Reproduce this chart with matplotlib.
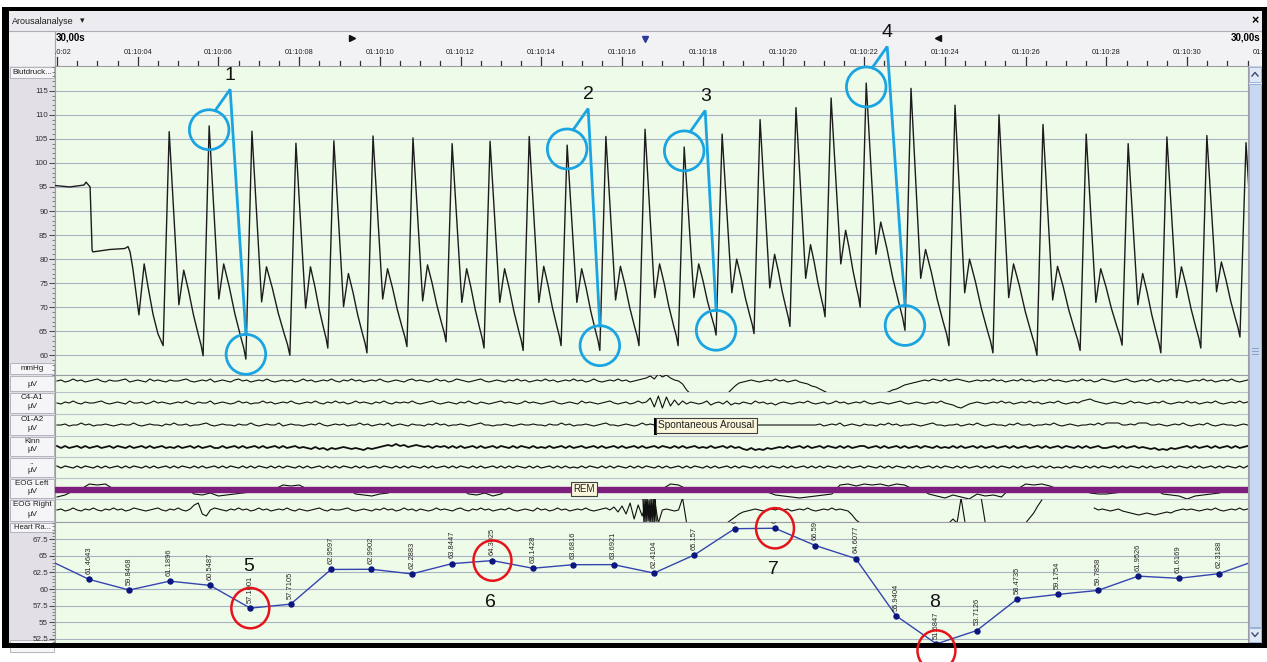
import numpy as np
import matplotlib
matplotlib.use("Agg")
import matplotlib.pyplot as plt
from matplotlib.patches import Rectangle, Ellipse
from matplotlib.ticker import FixedLocator, FuncFormatter

plt.rcParams['font.family'] = ['Liberation Sans', 'DejaVu Sans']

# ======================= DATA =======================
# time: seconds after 01:10:02 (30 s window)
ruler_major_s = list(range(0, 32, 2))
ruler_labels = ["01:10:%02d" % (2 + s) for s in ruler_major_s]
ruler_marks_t = [7.31, 14.57, 21.83]          # start marker, cursor, end marker

# Blood pressure (mmHg) - start of record before the first beat
bp_pre_t = [-0.05, 0.32, 0.67, 0.72, 0.77, 0.82, 0.87, 0.89, 1.31, 1.68, 1.76, 1.81,
            1.88, 2.03, 2.16, 2.25, 2.38, 2.50, 2.63]
bp_pre_v = [95.3, 95.0, 95.4, 96.0, 95.5, 95.0, 81.8, 81.5, 82.0, 82.2, 82.6, 81.5,
            78.0, 68.4, 79.0, 74.5, 68.5, 64.5, 62.0]
# per beat: time of systolic peak, systolic peak, preceding diastolic trough,
# dicrotic notch, secondary peak
bp_peak_t = [2.78, 3.77, 4.83, 5.92, 6.86, 7.83, 8.82, 9.79, 10.73, 11.70, 12.64, 13.60,
             14.57, 15.54, 16.48, 17.42, 18.31, 19.18, 20.05, 21.16, 22.25, 23.34, 24.43,
             25.50, 26.54, 27.50, 28.49, 29.46]
bp_peak = [106.5, 107.7, 106.6, 104.1, 104.6, 105.6, 105.2, 104.0, 104.5, 105.5, 103.7, 105.5,
           107.0, 103.3, 106.0, 109.0, 111.5, 113.5, 116.6, 115.5, 112.0, 110.0, 108.0,
           106.0, 104.0, 105.4, 105.7, 104.2]
bp_trough = [62.0, 59.9, 59.2, 60.0, 61.5, 60.5, 61.8, 62.8, 61.5, 61.0, 62.0, 61.0,
             62.0, 62.0, 64.2, 64.5, 66.0, 68.0, 70.0, 65.2, 62.0, 60.5, 60.0,
             61.0, 62.1, 60.5, 61.5, 63.8]
bp_notch = [70.5, 71.7, 71.1, 69.8, 70.1, 71.7, 71.3, 71.0, 71.0, 71.0, 71.0, 71.5,
            72.0, 72.0, 73.0, 74.0, 76.0, 79.0, 81.0, 76.0, 73.0, 72.0, 71.5,
            71.0, 70.5, 72.0, 73.2, 72.0]
bp_sec = [77.7, 79.0, 78.4, 78.4, 77.0, 78.0, 78.8, 78.0, 78.0, 78.5, 78.0, 78.5,
          79.0, 79.0, 80.0, 81.0, 83.0, 86.0, 87.7, 82.0, 80.0, 79.0, 78.5,
          78.0, 77.0, 78.4, 79.4, 79.0]

# Heart rate (bpm), one value per second
hr_t = [-0.21, 0.79, 1.79, 2.79, 3.79, 4.79, 5.79, 6.79, 7.79, 8.79, 9.79, 10.79, 11.79,
        12.79, 13.79, 14.79, 15.79, 16.79, 17.79, 18.79, 19.79, 20.79, 21.79, 22.79,
        23.79, 24.79, 25.79, 26.79, 27.79, 28.79, 29.79]
hr_v = [64.4, 61.4643, 59.8468, 61.1896, 60.5487, 57.1001, 57.7105, 62.9597, 62.9902,
        62.2883, 63.8447, 64.3025, 63.1428, 63.6816, 63.6921, 62.4104, 65.157, 69.1362,
        69.2017, 66.59, 64.6077, 55.9404, 51.6847, 53.7126, 58.4735, 59.1754, 59.7858,
        61.9526, 61.6169, 62.3188, 64.5]

# EEG / EOG / EMG channels: one letter per sample, 'm' = baseline, 1 px per letter step,
# '.' = trace outside its row
eeg_names = ["", "C4-A1", "O1-A2", "Kinn", "..", "EOG Left", "EOG Right"]
eeg_dt = [0.1, 0.1, 0.1, 0.1, 0.1, 0.2, 0.1]
eeg_ch1 = ("mlnmkmlnmlkmnlmmlknm" "lmnkmlmnlmmlkmnmlmkn" "mlmnlkmlnmlmkmnmlmln"
           "mkmlnmlmkmnlmkmlnmlm" "kmnmlmnlkmlmnmkmlnmk" "lmnmlkmnmlmnlmkmlnml"
           "mkmlnmlmkmlnmkmnmlmk" "mlnmlkjhkfigjlmpvz.." "......zvronmlmnmlmkm"
           "lnmlnoprsuwyz......." "....zyxvusqponmlmklm" "kmlklmnmlmlmkmlnmlmk"
           "mlnmlmkmlmnmlmkmlnmk" "lmnmlkmnmlmkmnlmkmlm" "nmlmkmlnmlmkmnml")
eeg_ch2 = ("mnlmkmnlmmlkmnmlmnkm" "mlnmkmlmnmlmkmnlmmkn" "mlmnmkmlnmmkmlnmlmkm"
           "nmlmkmnlmkmlnmkmlmnl" "mkmnlmlmkmnmlkmnmlmn" "lmkmnlmnmlkmlmnmkmlm"
           "nmlkmnmlmnkmlmnmlkmn" "mlnmkmlhqfrgpjoknlmn" "mkomlnkomnlmnkmlnmom"
           "lmnmlmkmnmlnmkmlnmlm" "kmnmlmnmlkmnmlmnmlmk" "mnoqrpnmlmnmlmkmlnml"
           "mkmlnmlmkmnmlmkjiklm" "nmlmnmkmlmnmlmkmnmlm" "kmlnmlmkmnmlmkml")
eeg_ch3 = ("mmlnmmkmlnmmlmnmlmmk" "mnmlmmnlmkmmlnmmlkmn" "mlmmnlmmkmnmlmmknmlm"
           "mnmlmkmnmlmlnmmkmlnm" "lmknmlmnlmmnlmkmlnmm" "lmnmlkmmnmmlmnmlmmlm"
           "mnlmmkmlnmmlmnmlkmmn" "mlmnmkmlmmmmmmmmmmmm" "mmmmmmmmmmmmmmmmmmmm"
           "mmmmmmmmmlnmlmknmlmn" "lmmnlmkmlnmmlmnmlkmm" "nmmlnmlmkmnmlmmnlmkm"
           "mlnmmlmkmnmlmnmmlmkm" "kkkkmmlmkkkmmlmnmlmk" "mnmlmkmnmlmmnmlm")
eeg_ch4 = ("lnlnmlnlnmlnmlnlmnln" "mlnlnmlnmnlnmlnlnmln" "nlnmlnlnmlnlnmlnlnml"
           "nmnomonpnonmnonopnon" "mlkljlkmlklmlnlmlnln" "lnmlnlnmlnlmnlnlmnln"
           "mnlnmlnlnmlnmlnlnmln" "lnmlnlnmlnlmnlnlnmln" "mnlnmlnlnmopnpopnonm"
           "nlnmlnlnmlnlmnlnlnml" "lnmlnlnmlnlnmlnlmnln" "mnlnlnmlnlnmlnmlnlnm"
           "lnmlnlnmlnlmnlnlnmln" "nmlnlnmlnmnonpopnonm" "lnlnmlnlnmlnlnml")
eeg_ch5 = ("lnlmnlnlmnlnlnmlnlnl" "mnlnlnmlnlnlmnlnlnml" "nlnlmnlnlnlmnlnlnlmn"
           "lnlnmlnlnlnlmnlnlnml" "nlmnlnlnlmnlnlnmlnln" "lmnlnlnmlnlnlnlmnlnl"
           "nmlnlnlnmnlnlmnlnlnl" "mnlnlnlmnlnlnmlnlnlm" "nlnlnmlnlnlmnlnlnlmn"
           "lnlnmlnlnlnlmnlnlnml" "nlmnlnlnlmnlnlnmlnln" "lmnlnlnmlnlnlnlmnlnl"
           "nmlnlnlnmnlnlmnlnlnl" "mnlnlnlmnlnlnmlnlnlm" "nlnlnmlnlnlmnlnl")
eeg_ch6 = ("usomhihmmm" "mmmmmmmrsq" "tsrqpmmmij" "immmmmmrst" "rqmmmmmmmm" "mrsqtrmmmm"
           "mmmmqrqmmm" "mmmmmmhimm" "mmmmmmmmps" "tuvutsrihj" "hihjhimmrt" "vsuwrtsumm"
           "hihjmmmmqr" "rqpmmmmrst" "wtsrqmmmm")
eeg_ch7 = ("mlnmkmnlmkmnlmkmlnmk" "lmnmlkmnlmkmnlhfqsmk" "lmnlmkmlnmkmlnmlmkmn"
           "lmnmlkmnlmmlkmnmlmnl" "mkmlnmkmlnlmnmkmlmnl" "kmnlmkmlnmlmkmnmlmnk"
           "mlnmkmlnmlmkmnmlkmjo" "iqfvhsdwbzmlmnmaz..." "......zwtqonmlmnmlmk"
           "mlnmlmkmnmlmkmlmnrwz" "...................." ".zvzaz...az........."
           "zupic............kml" "mnmlnopqrqpqrqpopnml" "mlmnmlmkmnmlmkml")
eog_r_burst_t0 = 14.52
eog_r_burst = "azbyaxczaybzax"       # 0.025 s per letter
arousal_start_t = 14.82
arousal_label = "Spontaneous Arousal"
rem_label_t = 13.05

# annotations: (number, beat index of peak); trough = the one before next beat
bp_anno = [("1", 1), ("2", 10), ("3", 13), ("4", 18)]
hr_anno = [("5", 5, 1), ("6", 11, -1), ("7", 18, -1), ("8", 22, 1)]

# ======================= FIGURE =======================
W, H = 1267, 662
fig = plt.figure(figsize=(W / 100, H / 100), dpi=100)
fig.patch.set_facecolor('white')
PX0, PXS = 57.0, 40.36


def tx(px):
    return (px - PX0) / PXS


T_LEFT, T_RIGHT = tx(55), tx(1248)


def pax(x0, y0, x1, y1, z):
    a = fig.add_axes([x0 / W, 1 - y1 / H, (x1 - x0) / W, (y1 - y0) / H])
    a.set_zorder(z)
    return a


def box(a, x0, y0, x1, y1, fc, ec='none', lw=0.0, z=1):
    p = Rectangle((x0, y0), x1 - x0, y1 - y0, facecolor=fc, edgecolor=ec,
                  linewidth=lw, zorder=z)
    a.add_patch(p)
    return p


# ---------- chrome ----------
bg = pax(0, 0, W, H, 0)
bg.set_xlim(0, W)
bg.set_ylim(H, 0)
bg.axis('off')
box(bg, 9, 11, 1262, 31, '#ecebef')
bg.plot([9, 1262], [31, 31], color='#aeacb6', lw=0.8, zorder=2)
box(bg, 9, 31, 1262, 66, '#f2f1f4')
box(bg, 9, 66, 55, 645, '#e2e0e6')
bg.plot([55, 55], [31, 645], color='#a6a4ae', lw=0.8, zorder=2)
bg.text(12, 21, 'Arousalanalyse', fontsize=6.5, va='center', color='#1e1e1e')
bg.text(80, 21, '▾', fontsize=6.5, va='center', family='DejaVu Sans', color='#1e1e1e')
bg.text(1255, 21, '×', fontsize=9, va='center', ha='center', weight='bold')
bg.text(56, 38, '30,00s', fontsize=7, weight='bold', va='center', ha='left')
bg.text(1260, 38, '30,00s', fontsize=7, weight='bold', va='center', ha='right')

LBL_FC, LBL_EC = '#f5f4f7', '#b4b2bb'
UIFS = 5.8


def label_box(y0, y1, name, unit, name_dy=5.5, unit_dy=6.0, fs=UIFS):
    p = box(bg, 10, y0, 54, y1, LBL_FC, LBL_EC, 0.7, 3)
    if name:
        t = bg.text(32, y0 + name_dy, name, fontsize=fs, ha='center', va='center',
                    color='#202020', zorder=4)
        t.set_clip_path(p)
    if unit:
        bg.text(32, y1 - unit_dy, unit, fontsize=fs, ha='center', va='center',
                color='#202020', zorder=4)


label_box(67, 78, 'Blutdruck...', '', name_dy=5.5)
label_box(363, 374, '', 'mmHg', unit_dy=5.5)
row_edges = [375, 392, 414, 436, 457, 478, 499, 522]
row_center = [381, 403, 425, 447, 467, 489, 510]
for k in range(7):
    label_box(row_edges[k] + 1, row_edges[k + 1] - 1, eeg_names[k], 'µV',
              name_dy=4.5, unit_dy=6.5)
label_box(523, 531.5, 'Heart Ra...', '', name_dy=4.2, fs=5.5)
label_box(640, 652, '', '')

# scrollbar
box(bg, 1248, 66, 1262, 645, '#eef1f6', '#c0c8d8', 0.6, 2)
box(bg, 1249, 67, 1261, 82, '#dfe8f7', '#9db3d8', 0.7, 3)
bg.plot([1252, 1255, 1258], [76, 72.5, 76], color='#3a4a6a', lw=1.0, zorder=4)
box(bg, 1249, 84, 1261, 627, '#c9d8f1', '#96aed8', 0.7, 3)
for yy in (348, 351, 354):
    bg.plot([1252, 1258], [yy, yy], color='#8aa0c8', lw=0.7, zorder=4)
box(bg, 1249, 628, 1261, 642, '#dfe8f7', '#9db3d8', 0.7, 3)
bg.plot([1252, 1255, 1258], [633, 636.5, 633], color='#3a4a6a', lw=1.0, zorder=4)

# ---------- ruler ----------
ax_r = pax(55, 31, 1262, 66, 3)
ax_r.set_xlim(tx(55), tx(1262))
ax_r.set_ylim(66, 31)
ax_r.axis('off')
for s, lab in zip(ruler_major_s, ruler_labels):
    ax_r.plot([s, s], [57, 65], color='#303030', lw=0.9)
    if s == ruler_major_s[-1]:
        # label at the right edge: only its first characters are inside the window
        ax_r.text(tx(1253), 52.5, lab[:3], fontsize=5.3, ha='left', va='center',
                  color='#202020')
    else:
        ax_r.text(s, 52.5, lab, fontsize=5.3, ha='center', va='center', color='#202020',
                  clip_on=True)
for s in np.arange(0, 30.01, 0.5):
    if s % 2:
        ax_r.plot([s, s], [61, 65], color='#303030', lw=0.9)
ax_r.plot(ruler_marks_t[0], 37.5, marker='>', ms=4, color='#101010', clip_on=False)
ax_r.plot(ruler_marks_t[1], 38.5, marker='v', ms=4.5, color='#2c3a9c', clip_on=False)
ax_r.plot(ruler_marks_t[2], 37.5, marker='<', ms=4, color='#101010', clip_on=False)

# ---------- data panels ----------
PLOT_BG = '#effbe9'
GRID = '#a8b3c1'


def style(a, ylo, yhi):
    a.set_facecolor(PLOT_BG)
    a.set_xlim(T_LEFT, T_RIGHT)
    a.set_ylim(ylo, yhi)
    a.set_xticks([])
    for sp in a.spines.values():
        sp.set_color('#9c9ca6')
        sp.set_linewidth(0.8)


# Blood pressure
ax_bp = pax(55, 66, 1248, 375, 2)
style(ax_bp, 55.9, 120.15)
ax_bp.yaxis.set_major_locator(FixedLocator(list(range(60, 120, 5))))
ax_bp.yaxis.set_minor_locator(FixedLocator(list(range(56, 121))))
ax_bp.tick_params(axis='y', which='major', length=4, width=0.8, color='#505050',
                  labelsize=5.8, pad=1, labelcolor='#303030')
ax_bp.tick_params(axis='y', which='minor', length=2, width=0.6, color='#707070')
for v in range(60, 120, 5):
    ax_bp.axhline(v, color=GRID, lw=0.8, zorder=0.5)

UP, NOTCH_DT, SEC_DT = 0.15, 0.24, 0.36
FR = [0.25, 0.5, 0.75, 0.9]
GR = [0.76, 0.48, 0.25, 0.12]
ts, vs = list(bp_pre_t), list(bp_pre_v)
for i, tp in enumerate(bp_peak_t):
    if i > 0:
        ts.append(tp - UP)
        vs.append(bp_trough[i])
    ts += [tp, tp + NOTCH_DT, tp + SEC_DT]
    vs += [bp_peak[i], bp_notch[i], bp_sec[i]]
    if i + 1 < len(bp_peak_t):
        tn, vn = bp_peak_t[i + 1] - UP, bp_trough[i + 1]
        t0 = tp + SEC_DT
        for f, g in zip(FR, GR):
            ts.append(t0 + f * (tn - t0))
            vs.append(vn + g * (bp_sec[i] - vn))
ax_bp.plot(ts, vs, color='#1c1c1c', lw=1.0, zorder=3)

# EEG block
ax_eeg = pax(55, 375, 1248, 522, 2)
style(ax_eeg, 522, 375)
ax_eeg.set_yticks([])
for y in row_edges[1:-1]:
    ax_eeg.axhline(y, color='#b9c2cc', lw=0.8, zorder=0.5)


def offsets(s):
    return np.array([np.nan if c == '.' else float(ord(c) - ord('m')) for c in s])


channels = [eeg_ch1, eeg_ch2, eeg_ch3, eeg_ch4, eeg_ch5, eeg_ch6, eeg_ch7]
widths = [0.8, 0.8, 0.8, 1.3, 0.9, 0.8, 0.8]
for k, s in enumerate(channels):
    tt = np.arange(len(s)) * eeg_dt[k]
    yy = row_center[k] + offsets(s)
    clip = Rectangle((T_LEFT, row_edges[k]), T_RIGHT - T_LEFT,
                     row_edges[k + 1] - row_edges[k], transform=ax_eeg.transData)
    ln, = ax_eeg.plot(tt, yy, color='#101010', lw=widths[k], zorder=3)
    ln.set_clip_path(clip)
    if k == 6:
        tb = eog_r_burst_t0 + np.arange(len(eog_r_burst)) * 0.025
        lb, = ax_eeg.plot(tb, row_center[k] + offsets(eog_r_burst), color='#101010',
                          lw=1.0, zorder=3)
        lb.set_clip_path(clip)

# REM band
ax_eeg.axhspan(486.5, 491.5, color='#7d1f7c', zorder=4)
ax_eeg.text(rem_label_t, 489, 'REM', fontsize=7, ha='center', va='center', zorder=6,
            color='#202020',
            bbox=dict(boxstyle='square,pad=0.25', fc='#fbf7dc', ec='#404040', lw=0.8))
ax_eeg.plot([arousal_start_t, arousal_start_t], [418.5, 432.5], color='#000000', lw=2.2,
            zorder=6)
ax_eeg.text(arousal_start_t + 0.08, 425.5, arousal_label, fontsize=7.3, ha='left',
            va='center', zorder=6, color='#202020',
            bbox=dict(boxstyle='square,pad=0.25', fc='#fbf7dc', ec='#404040', lw=0.8))

# Heart rate
ax_hr = pax(55, 522, 1248, 643, 2)
style(ax_hr, 51.82, 70.15)
hr_ticks = [52.5, 55, 57.5, 60, 62.5, 65, 67.5]
ax_hr.yaxis.set_major_locator(FixedLocator(hr_ticks))
ax_hr.yaxis.set_minor_locator(FixedLocator(list(np.arange(52.0, 70.1, 0.5))))
ax_hr.yaxis.set_major_formatter(FuncFormatter(lambda v, p: "%g" % v))
ax_hr.tick_params(axis='y', which='major', length=4, width=0.8, color='#505050',
                  labelsize=5.8, pad=1, labelcolor='#303030')
ax_hr.tick_params(axis='y', which='minor', length=2, width=0.6, color='#707070')
for v in hr_ticks:
    ax_hr.axhline(v, color=GRID, lw=0.8, zorder=0.5)
ax_hr.plot(hr_t, hr_v, color='#3545b0', lw=1.0, zorder=3, marker='o', ms=3.6,
           mfc='#0c1680', mec='#0c1680')
for t, v in zip(hr_t, hr_v):
    if T_LEFT < t < T_RIGHT:
        ax_hr.text(t, v + 0.8, ("%.4f" % v).rstrip('0'), rotation=90, fontsize=5.4,
                   ha='center', va='bottom', color='#262626', clip_on=True, zorder=4)

# ---------- black frame ----------
fr = pax(0, 0, W, H, 6)
fr.set_xlim(0, W)
fr.set_ylim(H, 0)
fr.axis('off')
box(fr, 2, 7, 9, 648, '#000000')
box(fr, 2, 7, 1267, 11, '#000000')
box(fr, 1262, 7, 1267, 648, '#000000')
box(fr, 2, 643, 1267, 648, '#000000')

# ---------- annotations ----------
an = pax(0, 0, W, H, 10)
an.axis('off')
BLUE, RED = '#1aa5e2', '#e5141b'
for num, pk in bp_anno:
    tp, vp = bp_peak_t[pk], bp_peak[pk]
    tt_, vt = bp_peak_t[pk + 1] - UP, bp_trough[pk + 1]
    an.add_patch(Ellipse((tp, vp - 0.8), 0.98, 8.3, transform=ax_bp.transData,
                         fill=False, ec=BLUE, lw=2.0, clip_on=False))
    an.add_patch(Ellipse((tt_, vt + 1.0), 0.98, 8.3, transform=ax_bp.transData,
                         fill=False, ec=BLUE, lw=2.0, clip_on=False))
    vx, vy = tp + 0.52, vp + 7.6
    an.plot([tp + 0.15, vx, tt_], [vp + 3.2, vy, vt + 5.1], color=BLUE, lw=2.0,
            transform=ax_bp.transData, clip_on=False, solid_joinstyle='miter')
    an.text(tp + 0.52, vp + 10.5, num, fontsize=14, ha='center', va='center',
            transform=ax_bp.transData, color='#111111')
for num, k, side in hr_anno:
    t, v = hr_t[k], hr_v[k]
    cy = v - 1.0 if num == "8" else v
    an.add_patch(Ellipse((t, cy), 0.94, 6.1, transform=ax_hr.transData, fill=False,
                         ec=RED, lw=1.8, clip_on=False))
    an.text(t - 0.05, v + side * 6.3, num, fontsize=14, ha='center', va='center',
            transform=ax_hr.transData, color='#111111')
an.set_xlim(0, W)
an.set_ylim(H, 0)

fig.savefig('out.png', dpi=100, facecolor='white')
